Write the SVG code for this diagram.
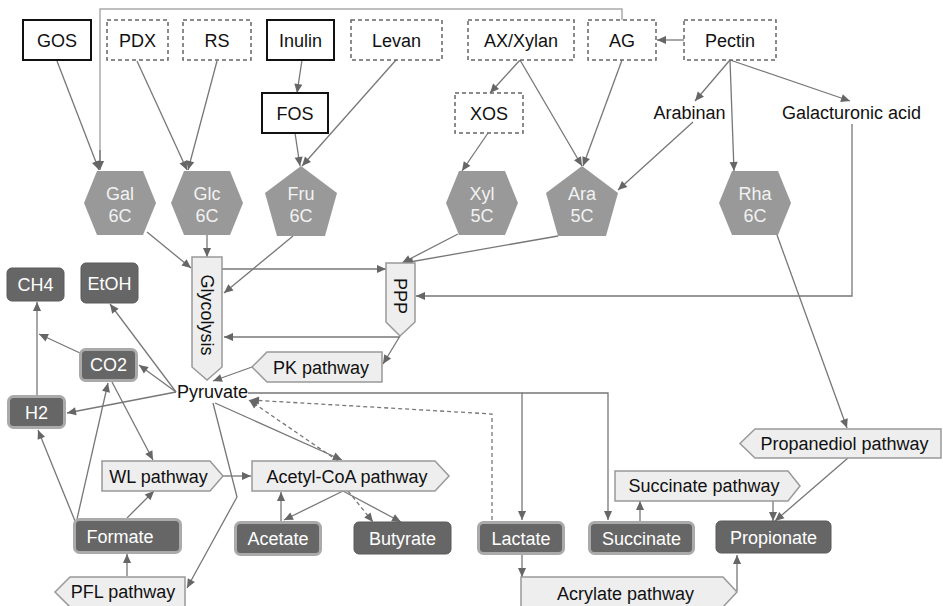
<svg xmlns="http://www.w3.org/2000/svg" width="943" height="606" viewBox="0 0 943 606">
<defs>
<marker id="ah" viewBox="0 0 10 10" refX="10" refY="5" markerWidth="10" markerHeight="9" markerUnits="userSpaceOnUse" orient="auto"><path d="M0,0.5 L10,5 L0,9.5 z" fill="#666"/></marker>
<style>
text{font-family:"Liberation Sans",Arial,sans-serif;font-size:18px;text-anchor:middle;fill:#111}
.solid{fill:#fff;stroke:#111;stroke-width:2}
.dash{fill:#fff;stroke:#666;stroke-width:1.5;stroke-dasharray:4,3}
.sugar{fill:#999}
.sugar-t{fill:#f2f2f2}
.dark{fill:#666;stroke:#5a5a5a;stroke-width:1}
.darkb{fill:#666;stroke:#aaa;stroke-width:3}
.dk-t{fill:#fff}
.path{fill:#eee;stroke:#999;stroke-width:1.5}
.c{fill:none;stroke:#777;stroke-width:1.3;marker-end:url(#ah)}
.cd{fill:none;stroke:#777;stroke-width:1.3;stroke-dasharray:4,3;marker-end:url(#ah)}
.cl{fill:none;stroke:#aaa;stroke-width:1.5}
</style>
</defs>
<rect width="943" height="606" fill="#fff"/>

<g id="connectors">
<path class="cl" d="M622,20 V9 H100 V165"/>
<path class="c" d="M100,150 V170"/>
<path class="c" d="M57,61 L99,170"/>
<path class="c" d="M137,61 L187,170"/>
<path class="c" d="M217,61 L188,170"/>
<path class="c" d="M302,60 L297,93"/>
<path class="c" d="M295,133 L300,166"/>
<path class="c" d="M396,60 L302,166"/>
<path class="c" d="M520,60 L490,93"/>
<path class="c" d="M520,60 L582,166"/>
<path class="c" d="M622,60 L583,166"/>
<path class="c" d="M488,133 L462,171"/>
<path class="c" d="M684,40 L657,40"/>
<path class="c" d="M730,60 L695,101"/>
<path class="c" d="M730,60 L734,171"/>
<path class="c" d="M730,60 L850,101"/>
<path class="c" d="M693,122 L618,190"/>
<path class="c" d="M147,232 L191,268"/>
<path class="c" d="M207,235 L207,257"/>
<path class="c" d="M293,236 L224,293"/>
<path class="c" d="M192,269 L386,269"/>
<path class="c" d="M458,234 L402,263"/>
<path class="c" d="M558,236 L404,263"/>
<path class="c" d="M852,124 V296 H416"/>
<path class="c" d="M400,337 H224"/>
<path class="c" d="M400,336 L383,364"/>
<path class="c" d="M252,367 L213,381"/>
<path class="c" d="M777,235 L847,428"/>
<path class="c" d="M176,392 L110,304"/>
<path class="c" d="M176,392 L139,365"/>
<path class="c" d="M176,392 L67,413"/>
<path class="c" d="M37,395 V302"/>
<path class="c" d="M80,353 L39,334"/>
<path class="c" d="M112,382 L153,460"/>
<path class="c" d="M77,519 L108,383"/>
<path class="c" d="M75,521 L38,430"/>
<path class="c" d="M127,518 L154,491"/>
<path class="c" d="M127,576 V554"/>
<path class="c" d="M213,403 L237,497 L187,588"/>
<path class="c" d="M215,403 L342,460"/>
<path class="cd" d="M338,461 L249,400"/>
<path class="c" d="M223,476 L251,476"/>
<path class="c" d="M281,522 V492"/>
<path class="c" d="M343,491 L284,520"/>
<path class="c" d="M343,491 L401,522"/>
<path class="cd" d="M348,491 L373,522"/>
<path class="c" d="M248,393 H522 V520"/>
<path class="c" d="M522,393 H608 V520"/>
<path class="cd" d="M492,520 V414 L250,400"/>
<path class="c" d="M522,555 V577"/>
<path class="c" d="M737,591 L737,555"/>
<path class="c" d="M640,521 V501"/>
<path class="c" d="M773,501 V521"/>
<path class="c" d="M848,458 L775,521"/>
</g>

<g id="GOS"><rect class="solid" x="23" y="20" width="68" height="40"/><text x="57" y="47">GOS</text></g>
<g id="PDX"><rect class="dash" x="107" y="20" width="61" height="40"/><text x="137.5" y="47">PDX</text></g>
<g id="RS"><rect class="dash" x="183" y="20" width="68" height="40"/><text x="217" y="47">RS</text></g>
<g id="Inulin"><rect class="solid" x="267" y="20" width="67" height="40"/><text x="300.5" y="47">Inulin</text></g>
<g id="Levan"><rect class="dash" x="351" y="20" width="91" height="40"/><text x="396.5" y="47">Levan</text></g>
<g id="AXXylan"><rect class="dash" x="468" y="20" width="106" height="40"/><text x="521" y="47">AX/Xylan</text></g>
<g id="AG"><rect class="dash" x="588" y="20" width="68" height="40"/><text x="622" y="47">AG</text></g>
<g id="Pectin"><rect class="dash" x="684" y="20" width="92" height="40"/><text x="730" y="47">Pectin</text></g>
<g id="FOS"><rect class="solid" x="262" y="93" width="66" height="40"/><text x="295" y="120">FOS</text></g>
<g id="XOS"><rect class="dash" x="455" y="93" width="68" height="40"/><text x="489" y="120">XOS</text></g>
<g id="Arabinan"><text x="689.5" y="119">Arabinan</text></g>
<g id="GalacturonicAcid"><text x="851.5" y="119">Galacturonic acid</text></g>

<g id="Gal"><polygon class="sugar" points="84,203 97,171 143,171 156,203 143,235 97,235"/><text class="sugar-t" x="120" y="200">Gal</text><text class="sugar-t" x="120" y="222">6C</text></g>
<g id="Glc"><polygon class="sugar" points="171,203 184,171 230,171 243,203 230,235 184,235"/><text class="sugar-t" x="207" y="200">Glc</text><text class="sugar-t" x="207" y="222">6C</text></g>
<g id="Fru"><polygon class="sugar" points="301,166 337,193 325,236 277,236 265,193"/><text class="sugar-t" x="301" y="200">Fru</text><text class="sugar-t" x="301" y="222">6C</text></g>
<g id="Xyl"><polygon class="sugar" points="446,203 459,171 505,171 518,203 505,235 459,235"/><text class="sugar-t" x="482" y="200">Xyl</text><text class="sugar-t" x="482" y="222">5C</text></g>
<g id="Ara"><polygon class="sugar" points="582,166 618,193 606,236 558,236 546,193"/><text class="sugar-t" x="582" y="200">Ara</text><text class="sugar-t" x="582" y="222">5C</text></g>
<g id="Rha"><polygon class="sugar" points="719,203 732,171 778,171 791,203 778,235 732,235"/><text class="sugar-t" x="755" y="200">Rha</text><text class="sugar-t" x="755" y="222">6C</text></g>

<g id="Glycolysis"><polygon class="path" points="192,257 222,257 222,367 207,380 192,367"/><text x="207" y="315" dominant-baseline="central" transform="rotate(90 207 315)">Glycolysis</text></g>
<g id="PPP"><polygon class="path" points="386,263 415,263 415,322 400,336 386,322"/><text x="400" y="296" dominant-baseline="central" transform="rotate(90 400 296)">PPP</text></g>
<g id="PKpathway"><polygon class="path" points="267,352 382,352 382,382 267,382 252,367"/><text x="321" y="374">PK pathway</text></g>
<g id="Pyruvate"><text x="212.5" y="398">Pyruvate</text></g>
<g id="WLpathway"><polygon class="path" points="102,461 210,461 223,476 210,491 102,491"/><text x="158.5" y="483">WL pathway</text></g>
<g id="AcetylCoApathway"><polygon class="path" points="252,461 435,461 449,476 435,491 252,491"/><text x="347" y="483">Acetyl-CoA pathway</text></g>
<g id="PFLpathway"><polygon class="path" points="70,577 185,577 185,607 70,607 55,592"/><text x="123" y="598">PFL pathway</text></g>
<g id="Propanediolpathway"><polygon class="path" points="755,429 941,429 941,458 755,458 740,443.5"/><text x="844.5" y="450">Propanediol pathway</text></g>
<g id="Succinatepathway"><polygon class="path" points="615,471 788,471 800,486 788,501 615,501"/><text x="704" y="492">Succinate pathway</text></g>
<g id="Acrylatepathway"><polygon class="path" points="521,577 723,577 737,592 723,607 521,607"/><text x="625.5" y="600">Acrylate pathway</text></g>

<g id="CH4"><rect class="dark" x="7" y="268" width="57" height="33" rx="5"/><text class="dk-t" x="35.5" y="291">CH4</text></g>
<g id="EtOH"><rect class="dark" x="81" y="263" width="57" height="40" rx="5"/><text class="dk-t" x="109.5" y="290">EtOH</text></g>
<g id="CO2"><rect class="darkb" x="80.5" y="349.5" width="56" height="31" rx="5"/><text class="dk-t" x="108.5" y="371">CO2</text></g>
<g id="H2"><rect class="darkb" x="8.5" y="396.5" width="56" height="31" rx="5"/><text class="dk-t" x="36.5" y="419">H2</text></g>
<g id="Formate"><rect class="darkb" x="74.5" y="519.5" width="106" height="33" rx="5"/><text class="dk-t" x="120" y="543">Formate</text></g>
<g id="Acetate"><rect class="darkb" x="235.5" y="522.5" width="85" height="32" rx="5"/><text class="dk-t" x="278" y="545">Acetate</text></g>
<g id="Butyrate"><rect class="dark" x="354" y="522" width="97" height="32" rx="5"/><text class="dk-t" x="402.5" y="545">Butyrate</text></g>
<g id="Lactate"><rect class="darkb" x="478.5" y="522.5" width="85" height="31" rx="5"/><text class="dk-t" x="521" y="545">Lactate</text></g>
<g id="Succinate"><rect class="darkb" x="589.5" y="522.5" width="104" height="31" rx="5"/><text class="dk-t" x="641.5" y="545">Succinate</text></g>
<g id="Propionate"><rect class="dark" x="716" y="521" width="115" height="32" rx="5"/><text class="dk-t" x="773.5" y="544">Propionate</text></g>
</svg>
